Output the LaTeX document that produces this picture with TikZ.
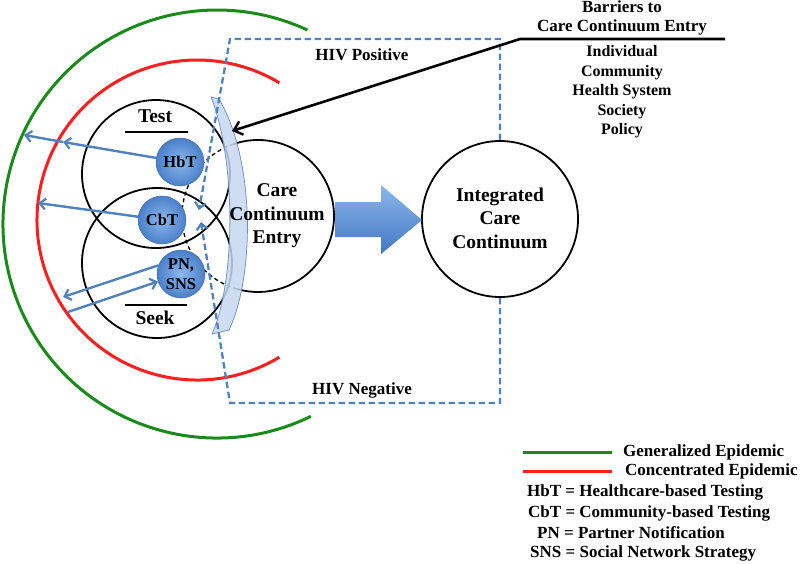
\documentclass[tikz,border=0pt]{standalone}
\usepackage{fontspec}
\setmainfont{Liberation Serif}
\usetikzlibrary{arrows.meta,calc}
\definecolor{genC}{HTML}{1A8A1A}
\definecolor{concC}{HTML}{FF1F1F}
\definecolor{steel}{HTML}{4F81BD}
\definecolor{cresFill}{HTML}{C6D7EF}
\definecolor{cresLine}{HTML}{6F93C8}
\definecolor{sphIn}{HTML}{8DB8EE}
\definecolor{sphOut}{HTML}{4A7FC8}
\definecolor{arrTop}{HTML}{8DB6EA}
\definecolor{arrBot}{HTML}{4277C4}
\begin{document}
\begin{tikzpicture}[x=1pt,y=-1pt,
  txt/.style={font=\bfseries\fontsize{17}{20}\selectfont, inner sep=0pt, align=center},
  bigtxt/.style={font=\bfseries\fontsize{19.5}{23.5}\selectfont, inner sep=0pt, align=center},
  listtxt/.style={font=\bfseries\fontsize{16}{19.5}\selectfont, inner sep=0pt, align=center},
  sphere/.style={circle, minimum size=48pt, inner sep=0pt, draw=sphOut!85!black, line width=0.5pt,
    inner color=sphIn, outer color=sphOut, font=\bfseries\fontsize{16.5}{20.5}\selectfont, align=center},
  ring/.style={circle, draw=black, line width=1.8pt, inner sep=0pt},
  genline/.style={draw=genC, line width=3pt},
  concline/.style={draw=concC, line width=3pt},
  bluearrow/.style={draw=steel, line width=2.4pt, -{Straight Barb[length=6pt,width=11pt,line width=2.2pt]}},
  bdash/.style={draw=steel, line width=2.3pt, dash pattern=on 6.5pt off 3.5pt, -{Straight Barb[length=6pt,width=11pt,line width=2.2pt]}},
  hidden/.style={draw=black, line width=1.3pt, dash pattern=on 4pt off 3pt},
  blackarrow/.style={draw=black, line width=2.6pt, -{Straight Barb[length=8pt,width=14pt,line width=2.4pt]}}
]
\useasboundingbox (0,0) rectangle (800,563);

% epidemic arcs
\coordinate (gC) at (217,224);
\coordinate (rC) at (197,220);
\draw[genline] ([shift={(gC)}]64:214) arc[start angle=64, end angle=295, radius=214];
\draw[concline] ([shift={(rC)}]59:160) arc[start angle=59, end angle=301, radius=160];

% circles
\node[ring, minimum size=148pt] (test) at (156,174) {};
\node[ring, minimum size=150pt] (seek) at (157,263) {};
\node[ring, minimum size=156pt] (integ) at (500,219) {};
\node[bigtxt] (integT) at (500,218) {Integrated\\Care\\Continuum};
\node[circle, minimum size=152pt, inner sep=0pt] (care) at (258,216) {};
\draw[draw=black, line width=1.8pt] ([shift={(care.center)}]-109:76) arc[start angle=-109, end angle=106, radius=76];
\draw[hidden] ([shift={(care.center)}]106:76) arc[start angle=106, end angle=251, radius=76];

% Test / Seek labels
\node[bigtxt] (testT) at (155,116) {Test};
\node[bigtxt] (seekT) at (155,318) {Seek};
\coordinate (tu1) at (125,132); \coordinate (tu2) at (188,132);
\coordinate (so1) at (125,305); \coordinate (so2) at (187,305);
\draw[line width=1.6pt] (tu1) -- (tu2);
\draw[line width=1.6pt] (so1) -- (so2);

% crescent
\draw[fill=cresFill, fill opacity=0.85, draw=cresLine, line width=0.8pt]
  (211,97) -- (219,99) .. controls (255,160) and (255,275) .. (229,330) -- (212,334)
  .. controls (236,280) and (236,160) .. (211,97) -- cycle;
\node[bigtxt] (careT) at (277,216) {Care\\Continuum\\Entry};

% HIV +/- dashed paths
\coordinate (tr) at (500,39);
\coordinate (tl) at (230,39);
\coordinate (br) at (500,403);
\coordinate (bl) at (230,403);
\coordinate (dTip) at (199,210);
\coordinate (uTip) at (201,222);
\draw[bdash] (integ.north) -- (tr) -- (tl) -- (dTip);
\draw[bdash] (integ.south) -- (br) -- (bl) -- (uTip);
\node[txt] (hivp) at (362,55) {HIV Positive};
\node[txt] (hivn) at (362,390) {HIV Negative};

% spheres
\node[sphere] (hbt) at (180,162) {HbT};
\node[sphere] (cbt) at (162,220) {CbT};
\node[sphere] (pn) at (181,274) {PN,\\SNS};

% blue arrows
\coordinate (rHb) at (63,142);
\coordinate (gHb) at (24,135);
\coordinate (rCb) at (38,203);
\coordinate (rPn1) at (63,297);
\coordinate (rPn2) at (68,312);
\draw[bluearrow] (hbt) -- (rHb);
\draw[bluearrow] (rHb) -- (gHb);
\draw[bluearrow] (cbt) -- (rCb);
\draw[bluearrow] (pn.159) -- (rPn1);
\draw[bluearrow] (rPn2) -- (pn.198);

% big arrow
\shade[top color=arrTop, bottom color=arrBot]
  (335,202) -- (381,202) -- (381,185) -- (422,220) -- (381,254) -- (381,237) -- (335,237) -- cycle;

% barriers
\node[txt, anchor=north, font=\bfseries\fontsize{17}{19}\selectfont] (barH) at (622,1) {Barriers to\\Care Continuum Entry};
\node[listtxt] (barL) at (622,92) {Individual\\Community\\Health System\\Society\\Policy};
\coordinate (bEnd) at (725,39);
\coordinate (bKnee) at (520,39);
\coordinate (cresHit) at (232,131);
\draw[blackarrow] (bEnd) -- (bKnee) -- (cresHit);

% legend
\coordinate (lg1) at (523,452); \coordinate (lg2) at (612,452);
\coordinate (lr1) at (523,471); \coordinate (lr2) at (612,471);
\draw[genline] (lg1) -- (lg2);
\draw[concline] (lr1) -- (lr2);
\node[txt, anchor=west] (legG) at (623,452) {Generalized Epidemic};
\node[txt, anchor=west] (legR) at (625,471) {Concentrated Epidemic};
\node[txt, anchor=west] (legH) at (527,492) {HbT = Healthcare-based Testing};
\node[txt, anchor=west] (legC) at (528,513) {CbT = Community-based Testing};
\node[txt, anchor=west] (legP) at (537,533) {PN = Partner Notification};
\node[txt, anchor=west] (legS) at (530,553) {SNS = Social Network Strategy};
\end{tikzpicture}
\end{document}
